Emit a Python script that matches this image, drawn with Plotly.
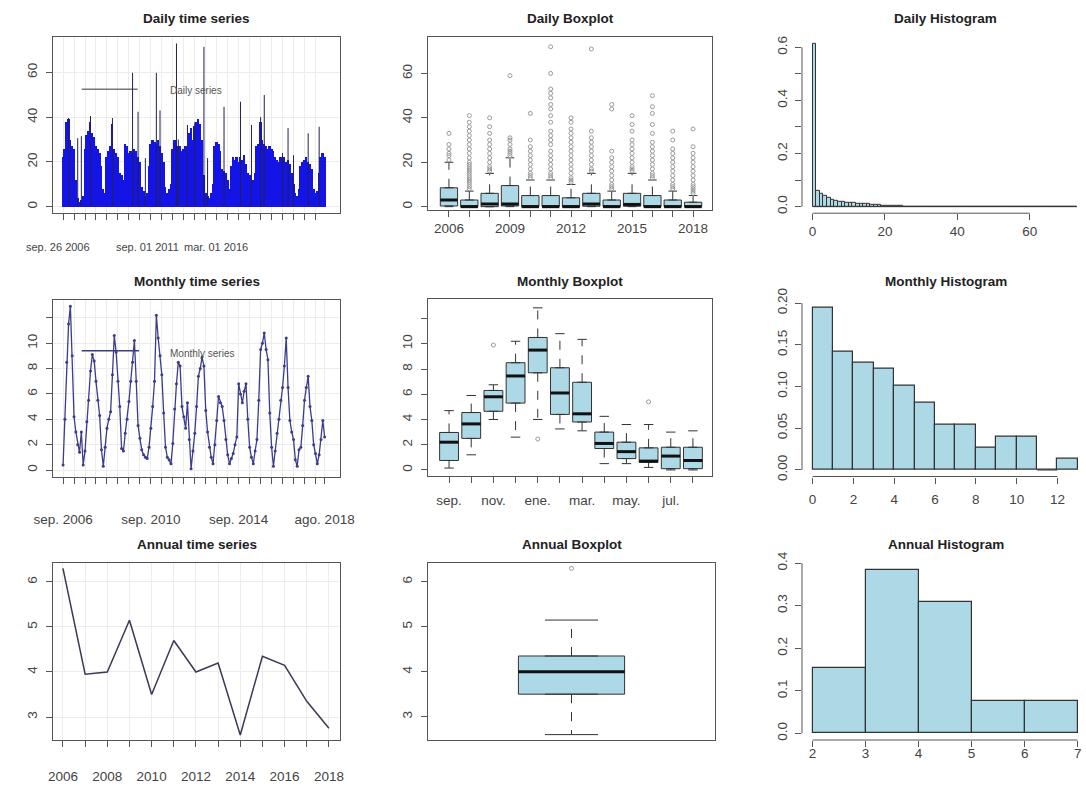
import numpy as np
import plotly.graph_objects as go

W, H = 1086, 787

# ---------------- DATA ----------------
# Daily series: month index 0 = sep 2006 ... 143 = ago 2018 (visual envelope of daily values per month)
daily_month_max = [22, 26, 38, 39, 30, 27, 26, 12, 4, 2, 3, 5,
                   26, 32, 34, 38, 33, 31, 27, 26, 24, 18, 8, 6,
                   22, 25, 27, 37, 26, 24, 22, 15, 14, 12, 28, 27,
                   24, 25, 24, 26, 25, 22, 20, 9, 7, 5, 6, 18,
                   28, 30, 29, 28, 30, 27, 24, 20, 9, 6, 8, 10,
                   26, 30, 28, 27, 27, 25, 26, 27, 25, 33, 35, 30,
                   36, 38, 39, 37, 30, 14, 6, 5, 4, 6, 10, 27,
                   29, 28, 25, 17, 16, 15, 12, 8, 18, 22, 21, 22,
                   20, 22, 21, 23, 19, 15, 14, 13, 12, 15, 27, 28,
                   38, 30, 28, 27, 26, 27, 26, 25, 22, 21, 20, 22,
                   21, 22, 20, 21, 19, 15, 10, 6, 5, 8, 18, 20,
                   21, 22, 20, 19, 17, 8, 6, 7, 15, 22, 24, 22]
daily_spike_month = [3, 8, 10, 15, 27, 38, 41, 45, 51, 53, 62, 63, 68, 72, 77, 79,
                     88, 97, 103, 108, 110, 120, 123, 126, 134, 140]
daily_spike_value = [39.6, 30.6, 31.5, 40.5, 39.6, 59.8, 42.4, 21.7, 59.8, 43.0, 72.9, 30.0,
                     36.5, 37.6, 71.4, 21.7, 44.6, 46.9, 36.5, 40.0, 49.9, 24.0, 35.1, 23.0,
                     32.8, 35.7]
daily_label_text = ["sep. 26 2006", "sep. 01 2011", "mar. 01 2016"]
daily_label_pos = [-2.7, 46.2, 83.6]

# Daily boxplot (per year)
years = [2006, 2007, 2008, 2009, 2010, 2011, 2012, 2013, 2014, 2015, 2016, 2017, 2018]
year_labels = ["2006", "", "", "2009", "", "", "2012", "", "", "2015", "", "", "2018"]
dbox_q1 = [0.3, 0, 0, 0.3, 0, 0, 0, 0.2, 0, 0.2, 0, 0, 0]
dbox_med = [3.0, 0, 1.2, 1.2, 0, 0, 0, 1.2, 0, 1.0, 0, 0, 0]
dbox_q3 = [8.5, 3, 6, 9.5, 5, 5, 4, 6, 3, 6, 5, 3, 2]
dbox_lo = [0, 0, 0, 0, 0, 0, 0, 0, 0, 0, 0, 0, 0]
dbox_hi = [20, 7, 15, 22, 12, 12, 10, 15, 7, 15, 12, 7, 5]
dbox_out = [
    [21, 23, 24, 26, 28, 33],
    [8, 9, 10, 11, 12, 13, 14, 15, 16, 17, 18, 19, 20, 22, 24, 26, 28, 30, 32, 34, 36, 38, 41],
    [16, 17, 18, 20, 22, 24, 26, 28, 30, 33, 36, 40],
    [23, 24, 25, 26, 28, 30, 31, 59],
    [13, 14, 15, 17, 19, 21, 23, 25, 27, 30, 42],
    [13, 14, 15, 17, 19, 21, 23, 25, 28, 30, 32, 34, 38, 41, 44, 46, 49, 51, 53, 60, 72],
    [11, 12, 13, 15, 17, 19, 21, 23, 25, 27, 29, 31, 33, 35, 38, 40],
    [16, 17, 19, 21, 23, 25, 27, 29, 31, 34, 71],
    [8, 9, 10, 12, 14, 16, 18, 20, 22, 25, 44, 46],
    [16, 17, 18, 20, 22, 24, 26, 28, 30, 34, 37, 41],
    [13, 14, 15, 17, 19, 21, 23, 25, 27, 29, 33, 37, 42, 45, 50],
    [8, 9, 10, 12, 14, 16, 18, 20, 22, 24, 26, 30, 34],
    [6, 7, 8, 9, 10, 12, 14, 16, 18, 20, 22, 24, 27, 35],
]

# Daily histogram (density per 1-unit bin, 0..73)
daily_hist = [0.615, 0.060, 0.050, 0.040, 0.032, 0.027, 0.023, 0.020, 0.018, 0.016,
              0.015, 0.013, 0.012, 0.011, 0.010, 0.009, 0.008, 0.007, 0.006, 0.004,
              0.003, 0.003, 0.002, 0.002, 0.0015, 0.001, 0.001, 0.0008, 0.0006, 0.0005,
              0.0005, 0.0004, 0.0004, 0.0003, 0.0003, 0.0003, 0.0002, 0.0002, 0.0002, 0.0002,
              0.0002, 0.0001, 0.0002, 0.0001, 0.0001, 0.0002, 0.0001, 0.0001, 0.0001, 0.0001,
              0.0001, 0, 0, 0, 0, 0, 0, 0, 0, 0.0002,
              0, 0, 0, 0, 0, 0, 0, 0, 0, 0,
              0.0002, 0, 0.0002]

# Monthly series (sep 2006 ... ago 2018)
monthly_values = [0.4, 4.0, 8.5, 11.5, 12.9, 9.0, 4.2, 3.0, 2.0, 1.4, 3.0, 0.4,
                  1.5, 3.8, 5.5, 7.8, 9.1, 8.6, 7.0, 5.5, 4.3, 1.6, 0.3, 1.8,
                  3.3, 4.0, 4.6, 7.5, 10.6, 9.3, 7.0, 5.0, 1.7, 1.5, 2.9, 4.0,
                  5.4, 7.0, 8.5, 10.2, 7.0, 3.5, 2.5, 1.6, 1.2, 1.0, 0.9, 1.8,
                  3.3, 5.0, 7.0, 12.2, 10.4, 9.0, 7.5, 4.5, 1.8, 1.0, 0.8, 0.5,
                  2.1, 4.8, 6.8, 8.5, 8.2, 5.0, 4.2, 3.3, 5.3, 2.4, 0.1, 1.5,
                  2.9, 5.0, 7.4, 8.0, 8.9, 8.2, 4.7, 3.0, 1.8, 1.0, 0.5, 2.0,
                  3.9, 5.8, 5.3, 5.0, 3.9, 2.4, 1.2, 0.5, 0.9, 1.3, 2.0, 2.6,
                  6.8, 6.0, 5.3, 6.2, 6.8, 4.0, 1.8, 1.0, 0.5, 1.5, 2.4, 5.5,
                  9.5, 10.0, 10.8, 9.5, 8.7, 4.5, 1.8, 0.3, 1.5, 2.9, 4.0, 5.5,
                  6.5, 8.2, 10.4, 6.5, 3.9, 3.0, 2.4, 0.8, 0.3, 1.6, 1.8, 3.5,
                  5.5, 6.5, 7.4, 5.0, 3.9, 2.0, 1.3, 0.5, 1.2, 2.4, 3.9, 2.6]
monthly_tick_labels = {0: "sep. 2006", 48: "sep. 2010", 96: "sep. 2014", 143: "ago. 2018"}

# Monthly boxplot (sep..ago)
month_labels = ["sep.", "", "nov.", "", "ene.", "", "mar.", "", "may.", "", "jul.", ""]
mbox_q1 = [0.75, 2.5, 4.65, 5.3, 7.7, 4.4, 3.8, 1.7, 0.9, 0.6, 0.1, 0.1]
mbox_med = [2.2, 3.65, 5.8, 7.45, 9.5, 6.1, 4.45, 2.1, 1.45, 0.7, 1.1, 0.75]
mbox_q3 = [2.97, 4.55, 6.3, 8.5, 10.5, 8.1, 6.95, 3.0, 2.2, 1.75, 1.8, 1.8]
mbox_lo = [0.15, 1.2, 4.0, 2.6, 4.0, 3.25, 3.1, 0.5, 0.5, 0.2, 0.0, 0.0]
mbox_hi = [4.7, 5.9, 6.75, 10.2, 12.85, 10.8, 10.35, 4.25, 3.6, 3.6, 3.0, 3.1]
mbox_out = [[], [], [9.9], [], [2.45], [], [], [], [], [5.4], [], []]

# Monthly histogram (density, 1-unit bins 0..13)
monthly_hist = [0.195, 0.142, 0.128, 0.121, 0.101, 0.081, 0.054, 0.054, 0.027, 0.040, 0.040, 0.0, 0.013]

# Annual series
annual_years = [2006, 2007, 2008, 2009, 2010, 2011, 2012, 2013, 2014, 2015, 2016, 2017, 2018]
annual_values = [6.3, 3.95, 4.0, 5.15, 3.5, 4.7, 4.0, 4.2, 2.6, 4.35, 4.15, 3.35, 2.75]

# Annual histogram (density, bins 2..7)
annual_hist_edges = [2, 3, 4, 5, 6, 7]
annual_hist = [0.154, 0.385, 0.308, 0.077, 0.077]

# ---------------- STYLE ----------------
FONT = "Liberation Sans, Arial, sans-serif"
TICKFONT = dict(family=FONT, size=13.5, color="#444")
LB = "#add8e6"
EDGE = "#333333"
GRID = "#ececec"

fig = go.Figure()


def names(i):
    return ("x" if i == 1 else f"x{i}", "y" if i == 1 else f"y{i}")


def dom_x(a, b):
    return [max(0.0, a / W), min(1.0, b / W)]


def dom_y(t, b):
    return [max(0.0, 1 - b / H), min(1.0, 1 - t / H)]


layout_axes = {}


def set_axes(i, xdom, ydom, xrange, yrange, xkw, ykw, boxed=True, grid=False):
    xa, ya = names(i)
    base = dict(zeroline=False, ticks="outside", ticklen=6, tickwidth=1, tickcolor="#555",
                tickfont=TICKFONT, fixedrange=True, showgrid=grid, gridcolor=GRID, automargin=False)
    xd = dict(base, domain=xdom, range=xrange, anchor=ya, tickangle=0)
    yd = dict(base, domain=ydom, range=yrange, anchor=xa, tickangle=-90)
    if boxed:
        for d in (xd, yd):
            d.update(showline=True, mirror=True, linecolor="#555", linewidth=1)
    else:
        xd.update(showline=False)
        yd.update(showline=False)
    xd.update(xkw)
    yd.update(ykw)
    layout_axes["xaxis" if i == 1 else f"xaxis{i}"] = xd
    layout_axes["yaxis" if i == 1 else f"yaxis{i}"] = yd


shapes = []
annotations = []


def segs(xs0, xs1, ys0, ys1):
    X, Y = [], []
    for a, b, c, d in zip(xs0, xs1, ys0, ys1):
        X += [a, b, None]
        Y += [c, d, None]
    return X, Y


def draw_boxes(i, pos, q1, med, q3, lo, hi, width, outs):
    xa, ya = names(i)
    fig.add_trace(go.Box(x=pos, q1=q1, median=med, q3=q3, lowerfence=q1, upperfence=q3,
                         width=width, fillcolor=LB, line=dict(color=EDGE, width=1),
                         boxpoints=False, xaxis=xa, yaxis=ya, showlegend=False, hoverinfo="skip"))
    # whiskers (dashed)
    X, Y = segs(pos + pos, pos + pos, q3 + q1, hi + lo)
    fig.add_trace(go.Scatter(x=X, y=Y, mode="lines", line=dict(color=EDGE, width=1, dash="dash"),
                             xaxis=xa, yaxis=ya, showlegend=False, hoverinfo="skip"))
    cw = width / 4
    X, Y = segs([p - cw for p in pos] * 2, [p + cw for p in pos] * 2, hi + lo, hi + lo)
    fig.add_trace(go.Scatter(x=X, y=Y, mode="lines", line=dict(color=EDGE, width=1),
                             xaxis=xa, yaxis=ya, showlegend=False, hoverinfo="skip"))
    hw = width / 2
    X, Y = segs([p - hw for p in pos], [p + hw for p in pos], med, med)
    fig.add_trace(go.Scatter(x=X, y=Y, mode="lines", line=dict(color="#111", width=3),
                             xaxis=xa, yaxis=ya, showlegend=False, hoverinfo="skip"))
    ox, oy = [], []
    for p, o in zip(pos, outs):
        ox += [p] * len(o)
        oy += list(o)
    if ox:
        fig.add_trace(go.Scatter(x=ox, y=oy, mode="markers",
                                 marker=dict(symbol="circle-open", size=4, color="#9a9a9a", line=dict(width=1)),
                                 xaxis=xa, yaxis=ya, showlegend=False, hoverinfo="skip"))


def hist_axis_lines(i, x0, x1, y0, y1):
    xa, ya = names(i)
    shapes.append(dict(type="line", xref=xa, yref=f"{ya} domain", x0=x0, x1=x1, y0=0, y1=0,
                       line=dict(color="#555", width=1)))
    shapes.append(dict(type="line", xref=f"{xa} domain", yref=ya, x0=0, x1=0, y0=y0, y1=y1,
                       line=dict(color="#555", width=1)))


COLX = [(53, 340), (428, 712), (802, 1084)]

# ---------- Panel 1: Daily time series ----------
months = list(range(len(daily_month_max)))
fig.add_trace(go.Bar(x=months, y=daily_month_max, width=1.08, marker=dict(color="#1414e6", line=dict(width=0)),
                     xaxis="x", yaxis="y", showlegend=False, hoverinfo="skip"))
X, Y = segs(daily_spike_month, daily_spike_month, [0] * len(daily_spike_month), daily_spike_value)
fig.add_trace(go.Scatter(x=X, y=Y, mode="lines", line=dict(color="#22224a", width=1),
                         xaxis="x", yaxis="y", showlegend=False, hoverinfo="skip"))
tv = list(range(0, 144, 6))
set_axes(1, dom_x(*COLX[0]), dom_y(37, 213), [-5.5, 151.4], [-2.8, 75.8],
         dict(tickvals=tv, showticklabels=False),
         dict(tickvals=[0, 20, 40, 60], ticklabelstandoff=4), grid=True)
for txt, xp in zip(daily_label_text, daily_label_pos):
    annotations.append(dict(text=txt, xref="x", yref="paper", x=xp, y=1 - 247 / H, xanchor="center",
                            yanchor="middle", showarrow=False, font=dict(family=FONT, size=11, color="#444")))
shapes.append(dict(type="line", xref="x domain", yref="y", x0=0.10, x1=0.295, y0=52.5, y1=52.5,
                   line=dict(color="#333", width=1)))
annotations.append(dict(text="Daily series", xref="x domain", yref="y", x=0.40, y=52.0, xanchor="left",
                        showarrow=False, font=dict(family=FONT, size=10, color="#555")))

# ---------- Panel 2: Daily boxplot ----------
pos = list(range(1, 14))
draw_boxes(2, pos, dbox_q1, dbox_med, dbox_q3, dbox_lo, dbox_hi, 0.85, dbox_out)
set_axes(2, dom_x(*COLX[1]), dom_y(37, 210), [-0.03, 13.93], [-1.5, 76.4],
         dict(tickvals=pos, ticktext=year_labels),
         dict(tickvals=[0, 20, 40, 60], ticklabelstandoff=4))

# ---------- Panel 3: Daily histogram ----------
bins = [b + 0.5 for b in range(len(daily_hist))]
fig.add_trace(go.Bar(x=bins, y=daily_hist, width=1, marker=dict(color=LB, line=dict(color=EDGE, width=1)),
                     xaxis="x3", yaxis="y3", showlegend=False, hoverinfo="skip"))
shapes.append(dict(type="line", xref="x3", yref="y3", x0=0, x1=len(daily_hist), y0=0, y1=0,
                   line=dict(color=EDGE, width=1)))
set_axes(3, dom_x(*COLX[2]), dom_y(36.8, 213.2), [-2.92, 74.98], [-0.0246, 0.6396],
         dict(tickvals=[0, 20, 40, 60]),
         dict(tickvals=[0, 0.1, 0.2, 0.3, 0.4, 0.5, 0.6], ticktext=["0.0", "", "0.2", "", "0.4", "", "0.6"],
              ticklabelstandoff=3), boxed=False)
hist_axis_lines(3, 0, 60, 0, 0.6)

# ---------- Panel 4: Monthly time series ----------
mm = list(range(len(monthly_values)))
fig.add_trace(go.Scatter(x=mm, y=monthly_values, mode="lines+markers",
                         line=dict(color="#3c3c8a", width=1.3), marker=dict(size=3, color="#3c3c8a"),
                         xaxis="x4", yaxis="y4", showlegend=False, hoverinfo="skip"))
tv4 = list(range(0, 139, 6)) + [143]
set_axes(4, dom_x(*COLX[0]), dom_y(300, 477), [-5.5, 151.4], [-0.55, 13.4],
         dict(tickvals=tv4, ticktext=[monthly_tick_labels.get(v, "") for v in tv4], ticklabelstandoff=24),
         dict(tickvals=[0, 2, 4, 6, 8, 10, 12], ticktext=["0", "2", "4", "6", "8", "10", ""], ticklabelstandoff=4),
         grid=True)
shapes.append(dict(type="line", xref="x4 domain", yref="y4", x0=0.10, x1=0.30, y0=9.4, y1=9.4,
                   line=dict(color="#3c3c8a", width=1.3)))
annotations.append(dict(text="Monthly series", xref="x4 domain", yref="y4", x=0.40, y=9.2, xanchor="left",
                        showarrow=False, font=dict(family=FONT, size=10, color="#555")))

# ---------- Panel 5: Monthly boxplot ----------
pos = list(range(1, 13))
draw_boxes(5, pos, mbox_q1, mbox_med, mbox_q3, mbox_lo, mbox_hi, 0.85, mbox_out)
set_axes(5, dom_x(*COLX[1]), dom_y(299, 476), [0.05, 12.86], [-0.48, 13.55],
         dict(tickvals=pos, ticktext=month_labels, ticklabelstandoff=6),
         dict(tickvals=[0, 2, 4, 6, 8, 10, 12], ticktext=["0", "2", "4", "6", "8", "10", ""], ticklabelstandoff=4))

# ---------- Panel 6: Monthly histogram ----------
mbins = [b + 0.5 for b in range(len(monthly_hist))]
fig.add_trace(go.Bar(x=mbins, y=monthly_hist, width=1, marker=dict(color=LB, line=dict(color=EDGE, width=1.2)),
                     xaxis="x6", yaxis="y6", showlegend=False, hoverinfo="skip"))
shapes.append(dict(type="line", xref="x6", yref="y6", x0=11, x1=12, y0=0, y1=0, line=dict(color=EDGE, width=1.2)))
set_axes(6, dom_x(*COLX[2]), dom_y(300.7, 476.5), [-0.52, 13.3], [-0.0078, 0.2028],
         dict(tickvals=[0, 2, 4, 6, 8, 10, 12], ticklabelstandoff=4),
         dict(tickvals=[0, 0.05, 0.10, 0.15, 0.20], ticktext=["0.00", "0.05", "0.10", "0.15", "0.20"],
              ticklabelstandoff=3), boxed=False)
hist_axis_lines(6, 0, 12, 0, 0.20)

# ---------- Panel 7: Annual time series ----------
fig.add_trace(go.Scatter(x=annual_years, y=annual_values, mode="lines",
                         line=dict(color="#3a3a55", width=1.5),
                         xaxis="x7", yaxis="y7", showlegend=False, hoverinfo="skip"))
set_axes(7, dom_x(*COLX[0]), dom_y(563, 740), [2005.55, 2018.5], [2.49, 6.42],
         dict(tickvals=annual_years, ticktext=[str(y) if y % 2 == 0 else "" for y in annual_years],
              ticklabelstandoff=18),
         dict(tickvals=[3, 4, 5, 6], ticklabelstandoff=4), grid=True)

# ---------- Panel 8: Annual boxplot ----------
av = np.sort(np.array(annual_values))
aq1, amed, aq3 = np.percentile(av, 25), np.percentile(av, 50), np.percentile(av, 75)
iqr = aq3 - aq1
ahi = float(av[av <= aq3 + 1.5 * iqr].max())
alo = float(av[av >= aq1 - 1.5 * iqr].min())
aout = [float(v) for v in av if v > aq3 + 1.5 * iqr or v < aq1 - 1.5 * iqr]
draw_boxes(8, [1], [float(aq1)], [float(amed)], [float(aq3)], [alo], [ahi], 0.37, [aout])
set_axes(8, dom_x(428, 715), dom_y(563, 740), [0.5, 1.5], [2.48, 6.42],
         dict(showticklabels=False, ticks=""),
         dict(tickvals=[3, 4, 5, 6], ticklabelstandoff=4))

# ---------- Panel 9: Annual histogram ----------
acent = [(a + b) / 2 for a, b in zip(annual_hist_edges[:-1], annual_hist_edges[1:])]
fig.add_trace(go.Bar(x=acent, y=annual_hist, width=1, marker=dict(color=LB, line=dict(color=EDGE, width=1.2)),
                     xaxis="x9", yaxis="y9", showlegend=False, hoverinfo="skip"))
set_axes(9, dom_x(*COLX[2]), dom_y(563, 740), [1.8, 7.12], [-0.0154, 0.4004],
         dict(tickvals=annual_hist_edges, ticklabelstandoff=-5),
         dict(tickvals=[0, 0.1, 0.2, 0.3, 0.4], ticktext=["0.0", "0.1", "0.2", "0.3", "0.4"], ticklabelstandoff=3),
         boxed=False)
hist_axis_lines(9, 2, 7, 0, 0.4)

# ---------- Titles ----------
titles = [("Daily time series", 196.5, 18), ("Daily Boxplot", 570, 18), ("Daily Histogram", 945.5, 18),
          ("Monthly time series", 196.5, 281), ("Monthly Boxplot", 570, 281), ("Monthly Histogram", 945.5, 281),
          ("Annual time series", 196.5, 544), ("Annual Boxplot", 571.5, 544), ("Annual Histogram", 945.5, 544)]
for t, cx, cy in titles:
    annotations.append(dict(text=f"<b>{t}</b>", xref="paper", yref="paper", x=cx / W, y=1 - cy / H,
                            xanchor="center", yanchor="middle", showarrow=False,
                            font=dict(family=FONT, size=13.5, color="#222")))

fig.update_layout(width=W, height=H, margin=dict(l=0, r=0, t=0, b=0, pad=0, autoexpand=False),
                  paper_bgcolor="white", plot_bgcolor="white", showlegend=False,
                  bargap=0, shapes=shapes, annotations=annotations, **layout_axes)

fig.write_html("out.html", config={"displayModeBar": False},
               post_script="document.body.style.margin='0';document.body.style.overflow='hidden';")
